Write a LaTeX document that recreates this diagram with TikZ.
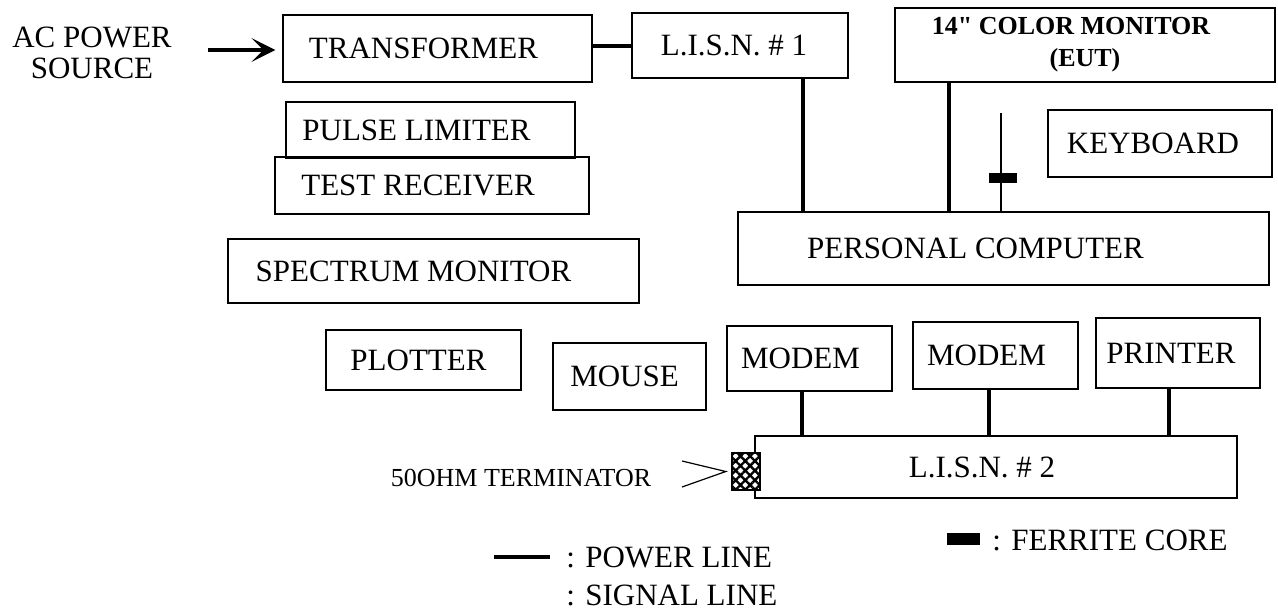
\documentclass[tikz,border=0pt]{standalone}
\usepackage{fontspec}
\setmainfont{Liberation Serif}
% same face without TeX input ligatures, so that " stays a straight inch mark
\newfontfamily\inchfont{Liberation Serif}
\usetikzlibrary{arrows.meta,patterns.meta}
\begin{document}
\begin{tikzpicture}[x=0.5pt,y=-0.5pt,
  box/.style={draw, line width=0.6pt, inner sep=0pt, font=\fontsize{15.5}{16}\selectfont},
  power/.style={line width=1.8pt},
  signal/.style={line width=0.6pt},
  lbl/.style={inner sep=0pt, font=\fontsize{15.5}{16}\selectfont},
  ferritebar/.style={fill=black, inner sep=0pt},
]
\useasboundingbox (0,0) rectangle (1278,610);

% equipment boxes
\node[box, minimum width=154.5pt, minimum height=33.5pt] (transformer) at (437.5,48.5) {TRANSFORMER\kern14pt};
\node[box, minimum width=108pt, minimum height=32.5pt] (lisn1) at (740,45.5) {L.I.S.N. \# 1\kern6pt};
\node[box, minimum width=190pt, minimum height=37pt, align=center,
      font=\inchfont\bfseries\fontsize{13}{16}\selectfont] (monitor) at (1085,45) {14" COLOR MONITOR\kern14pt\\(EUT)};
\node[box, minimum width=112pt, minimum height=33.5pt] (keyboard) at (1160,143.5) {KEYBOARD\kern7pt};
\node[box, minimum width=144.5pt, minimum height=28pt] (pulse) at (430.5,130) {PULSE LIMITER\kern14pt};
\node[box, minimum width=157pt, minimum height=28.5pt] (testrx) at (432,185.5) {TEST RECEIVER\kern14pt};
\node[box, minimum width=205.5pt, minimum height=32pt] (spectrum) at (433.5,271) {SPECTRUM MONITOR\kern20pt};
\node[box, minimum width=265.5pt, minimum height=36.5pt] (pc) at (1003.5,248.5) {PERSONAL COMPUTER\kern28pt};
\node[box, minimum width=97.5pt, minimum height=30pt] (plotter) at (423.5,360) {PLOTTER\kern5pt};
\node[box, minimum width=76.5pt, minimum height=33.5pt] (mouse) at (629.5,376.5) {MOUSE\kern5pt};
\node[box, minimum width=82.5pt, minimum height=32.5pt] (modem1) at (809.5,358.5) {MODEM\kern9pt};
\node[box, minimum width=82.5pt, minimum height=33.5pt] (modem2) at (995.5,355.5) {MODEM\kern9pt};
\node[box, minimum width=82pt, minimum height=35pt] (printer) at (1178,353) {PRINTER\kern7pt};
\node[box, minimum width=241pt, minimum height=31pt] (lisn2) at (996,467) {L.I.S.N. \# 2\kern14pt};

% 50 ohm terminator on the left end of L.I.S.N. #2
\node[draw, line width=0.6pt, inner sep=0pt, minimum width=14pt, minimum height=18.5pt,
      preaction={fill=white}, pattern={Hatch[angle=45,distance=3.4pt,line width=1.2pt]}] (term) at (746,471.5) {};
\node[lbl, font=\fontsize{13}{14}\selectfont] (termtxt) at (521,478) {50OHM TERMINATOR};
\coordinate (ta) at (682,461);
\coordinate (tb) at (682,487);
\draw[signal] (ta) -- ([xshift=-2.5pt]term.west) -- (tb);

% AC source feed
\node[lbl, align=center, font=\fontsize{15.5}{15.75}\selectfont] (ac) at (92,53) {AC POWER\\SOURCE};
\coordinate (acfeed) at (208,50);
\draw[power, -{Stealth[length=12pt,width=12pt,inset=6pt]}, shorten >=3.5pt] (acfeed) -- (transformer.west |- acfeed);

% power lines
\draw[power] (transformer.east |- 0,46) -- (lisn1.west |- 0,46);
\draw[power] (lisn1.south -| 803,0) -- (pc.north -| 803,0);
\draw[power] (monitor.south -| 949,0) -- (pc.north -| 949,0);
\draw[power] (modem1.south -| 802,0) -- (lisn2.north -| 802,0);
\draw[power] (modem2.south -| 989,0) -- (lisn2.north -| 989,0);
\draw[power] (printer.south -| 1169,0) -- (lisn2.north -| 1169,0);

% keyboard signal cable with ferrite core
\coordinate (sigtop) at (1001,113);
\draw[signal] (sigtop) -- (pc.north -| sigtop);
\node[ferritebar, minimum width=14pt, minimum height=5pt] (ferrite) at (1003,178) {};

% legend
\coordinate (pk1) at (494,557);
\coordinate (pk2) at (550,557);
\draw[power] (pk1) -- (pk2);
\node[lbl, anchor=west] (powtxt) at (566,557) {: POWER LINE};
\node[lbl, anchor=west] (sigtxt) at (566,595) {: SIGNAL LINE};
\node[ferritebar, minimum width=16.5pt, minimum height=6pt] (ferkey) at (963.5,539) {};
\node[lbl, anchor=west] (fertxt) at (992,540) {: FERRITE CORE};
\end{tikzpicture}
\end{document}
